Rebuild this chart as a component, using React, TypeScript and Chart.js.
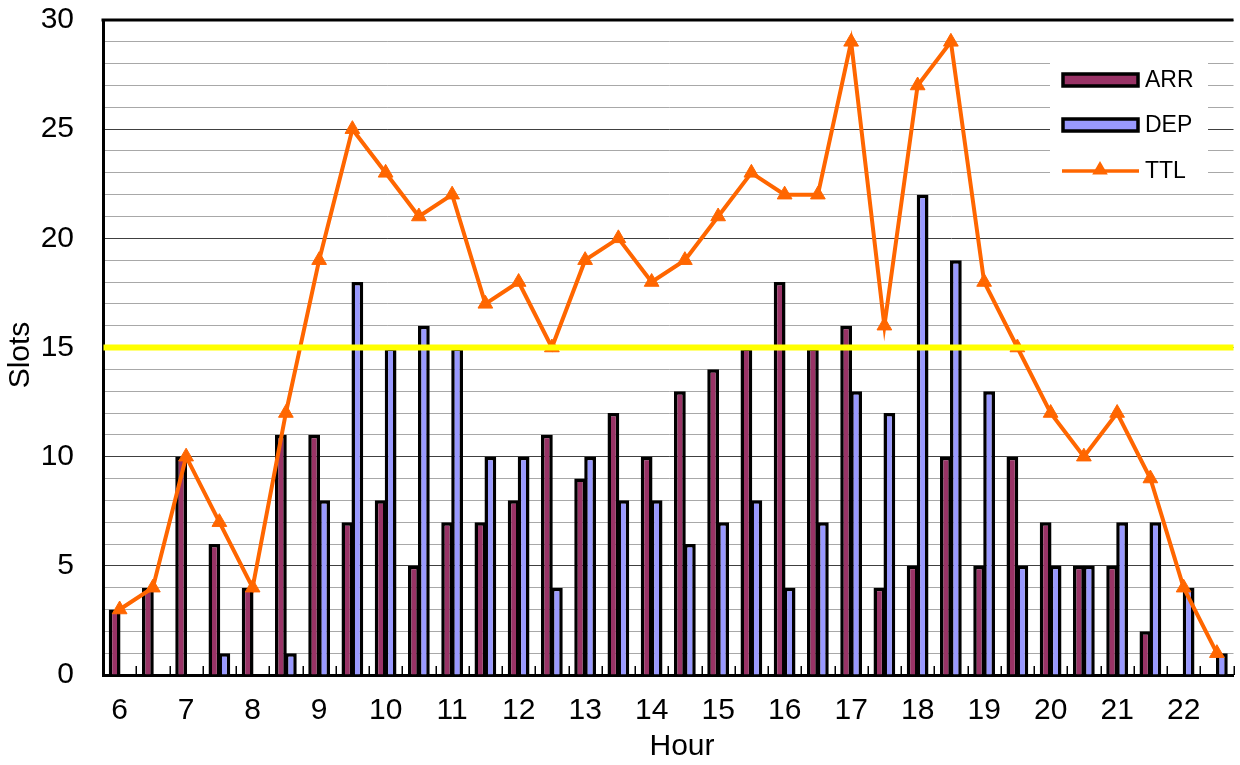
import React, { useEffect, useRef } from 'react';
import { Chart, registerables } from 'chart.js';

Chart.register(...registerables);

const HOURS = [6, 6.5, 7, 7.5, 8, 8.5, 9, 9.5, 10, 10.5, 11, 11.5, 12, 12.5, 13, 13.5, 14, 14.5, 15, 15.5, 16, 16.5, 17, 17.5, 18, 18.5, 19, 19.5, 20, 20.5, 21, 21.5, 22, 22.5];
const ARR = [3, 4, 10, 6, 4, 11, 11, 7, 8, 5, 7, 7, 8, 11, 9, 12, 10, 13, 14, 15, 18, 15, 16, 4, 5, 10, 5, 10, 7, 5, 5, 2, 0, 0];
const DEP = [0, 0, 0, 1, 0, 1, 8, 18, 15, 16, 15, 10, 10, 4, 10, 8, 8, 6, 7, 8, 4, 7, 13, 12, 22, 19, 13, 5, 5, 5, 7, 7, 4, 1];
const TTL = [3, 4, 10, 7, 4, 12, 19, 25, 23, 21, 22, 17, 18, 15, 19, 20, 18, 19, 21, 23, 22, 22, 29, 16, 27, 29, 18, 15, 12, 10, 12, 9, 4, 1];
const THRESHOLD = 15;
const Y_MIN = 0;
const Y_MAX = 30;
const Y_LABEL_STEP = 5;
const X_TITLE = 'Hour';
const Y_TITLE = 'Slots';

const FONT = '"Liberation Sans", Arial, sans-serif';
const ARR_COLOR = '#993366';
const DEP_COLOR = '#9999FF';
const TTL_COLOR = '#FF6600';

function drawTriangle(ctx: CanvasRenderingContext2D, x: number, y: number, r: number, color: string) {
  ctx.beginPath();
  ctx.moveTo(x, y - r);
  ctx.lineTo(x + r * 0.866, y + r * 0.5);
  ctx.lineTo(x - r * 0.866, y + r * 0.5);
  ctx.closePath();
  ctx.fillStyle = color;
  ctx.fill();
}

const decorPlugin = {
  id: 'decor',
  afterDatasetsDraw(chart: any) {
    const { ctx, chartArea, scales } = chart;
    const y = scales.y.getPixelForValue(THRESHOLD);
    ctx.save();
    ctx.strokeStyle = '#FFFF00';
    ctx.lineWidth = 6;
    ctx.beginPath();
    ctx.moveTo(chartArea.left + 0.5, y);
    ctx.lineTo(chartArea.right, y);
    ctx.stroke();
    ctx.restore();
  },
  afterDraw(chart: any) {
    const { ctx, chartArea, scales } = chart;
    const xs = scales.x;
    ctx.save();
    // top border
    ctx.strokeStyle = '#000';
    ctx.lineWidth = 3;
    ctx.beginPath();
    ctx.moveTo(chartArea.left - 1.5, chartArea.top);
    ctx.lineTo(chartArea.right, chartArea.top);
    ctx.stroke();
    // inner tick marks at category boundaries
    ctx.lineWidth = 1.5;
    for (let i = 0; i < HOURS.length; i++) {
      const a = xs.getPixelForValue(i);
      const b = i + 1 < HOURS.length ? xs.getPixelForValue(i + 1) : a + (a - xs.getPixelForValue(i - 1));
      const bx = Math.round((a + b) / 2) + 0.25;
      ctx.beginPath();
      ctx.moveTo(bx, chartArea.bottom);
      ctx.lineTo(bx, chartArea.bottom - 9);
      ctx.stroke();
    }
    // axis titles
    ctx.fillStyle = '#000';
    ctx.font = `30px ${FONT}`;
    ctx.textAlign = 'center';
    ctx.textBaseline = 'middle';
    ctx.fillText(X_TITLE, 682, 747);
    ctx.save();
    ctx.translate(21, 355);
    ctx.rotate(-Math.PI / 2);
    ctx.fillText(Y_TITLE, 0, 0);
    ctx.restore();

    // legend
    const lx = 1050, ly = 50, lw = 158, lh = 140;
    ctx.fillStyle = '#fff';
    ctx.fillRect(lx, ly, lw, lh);
    const ds = chart.data.datasets;
    const rows = [80, 125, 171];
    ctx.font = `23px ${FONT}`;
    ctx.textAlign = 'left';
    ds.forEach((d: any, i: number) => {
      const cy = rows[i];
      if (d.type === 'bar') {
        ctx.fillStyle = d.backgroundColor;
        ctx.fillRect(1063, cy - 6, 75, 12);
        ctx.strokeStyle = '#000';
        ctx.lineWidth = 3.5;
        ctx.strokeRect(1063, cy - 6, 75, 12);
      } else {
        ctx.strokeStyle = d.borderColor;
        ctx.lineWidth = 3.5;
        ctx.beginPath();
        ctx.moveTo(1062, cy);
        ctx.lineTo(1139, cy);
        ctx.stroke();
        drawTriangle(ctx, 1100, cy - 1, 9, d.borderColor);
      }
      ctx.fillStyle = '#000';
      ctx.fillText(d.label, 1145, cy + 1);
    });
    ctx.restore();
  },
};

export default function App() {
  const ref = useRef<HTMLCanvasElement | null>(null);

  useEffect(() => {
    if (!ref.current) return;
    Chart.defaults.font.family = FONT;
    const chart = new Chart(ref.current, {
      data: {
        labels: HOURS.map(String),
        datasets: [
          {
            type: 'bar',
            label: 'ARR',
            data: ARR,
            backgroundColor: ARR_COLOR,
            borderColor: '#000',
            borderWidth: 3.5,
            borderSkipped: 'start',
            categoryPercentage: 0.6,
            barPercentage: 1.18,
            order: 1,
          },
          {
            type: 'bar',
            label: 'DEP',
            data: DEP,
            backgroundColor: DEP_COLOR,
            borderColor: '#000',
            borderWidth: 3.5,
            borderSkipped: 'start',
            categoryPercentage: 0.6,
            barPercentage: 1.18,
            order: 1,
          },
          {
            type: 'line',
            label: 'TTL',
            data: TTL,
            borderColor: TTL_COLOR,
            backgroundColor: TTL_COLOR,
            borderWidth: 4,
            tension: 0,
            pointStyle: 'triangle',
            pointRadius: 8.5,
            pointBorderWidth: 1,
            pointBackgroundColor: TTL_COLOR,
            pointBorderColor: TTL_COLOR,
            order: 0,
          },
        ] as any,
      },
      options: {
        animation: false,
        responsive: false,
        maintainAspectRatio: false,
        layout: { padding: { top: 20, left: 0, right: 0, bottom: 0 } },
        plugins: {
          legend: { display: false },
          tooltip: { enabled: false },
          title: { display: false },
        },
        scales: {
          x: {
            type: 'category',
            offset: true,
            z: 1,
            grid: { display: false, drawTicks: false, offset: true },
            border: { display: true, color: '#000', width: 3 },
            ticks: {
              autoSkip: false,
              maxRotation: 0,
              minRotation: 0,
              padding: 18,
              color: '#000',
              font: { size: 30, family: FONT },
              callback: (_v: any, index: number) => (Number.isInteger(HOURS[index]) ? String(HOURS[index]) : ''),
            },
            afterFit: (scale: any) => {
              scale.height = 90;
              scale.paddingLeft = 0;
              scale.paddingRight = 0;
            },
          },
          y: {
            min: Y_MIN,
            max: Y_MAX,
            grid: {
              drawTicks: false,
              lineWidth: 1,
              color: (c: any) => (c.tick && c.tick.value % Y_LABEL_STEP === 0 ? '#404040' : '#a8a8a8'),
            },
            border: { display: true, color: '#000', width: 3 },
            ticks: {
              stepSize: 1,
              autoSkip: false,
              padding: 29,
              color: '#000',
              font: { size: 30, family: FONT },
              callback: (v: any) => (Number(v) % Y_LABEL_STEP === 0 ? String(v) : ''),
            },
            afterFit: (scale: any) => {
              scale.width = 103;
              scale.paddingTop = 0;
              scale.paddingBottom = 0;
            },
          },
        },
      },
      plugins: [decorPlugin],
    } as any);
    return () => chart.destroy();
  }, []);

  return (
    <div style={{ position: 'fixed', left: 0, top: 0, width: 1240, height: 765, overflow: 'hidden', background: '#fff' }}>
      <canvas ref={ref} width={1243} height={765} style={{ width: 1243, height: 765, display: 'block' }} />
    </div>
  );
}
